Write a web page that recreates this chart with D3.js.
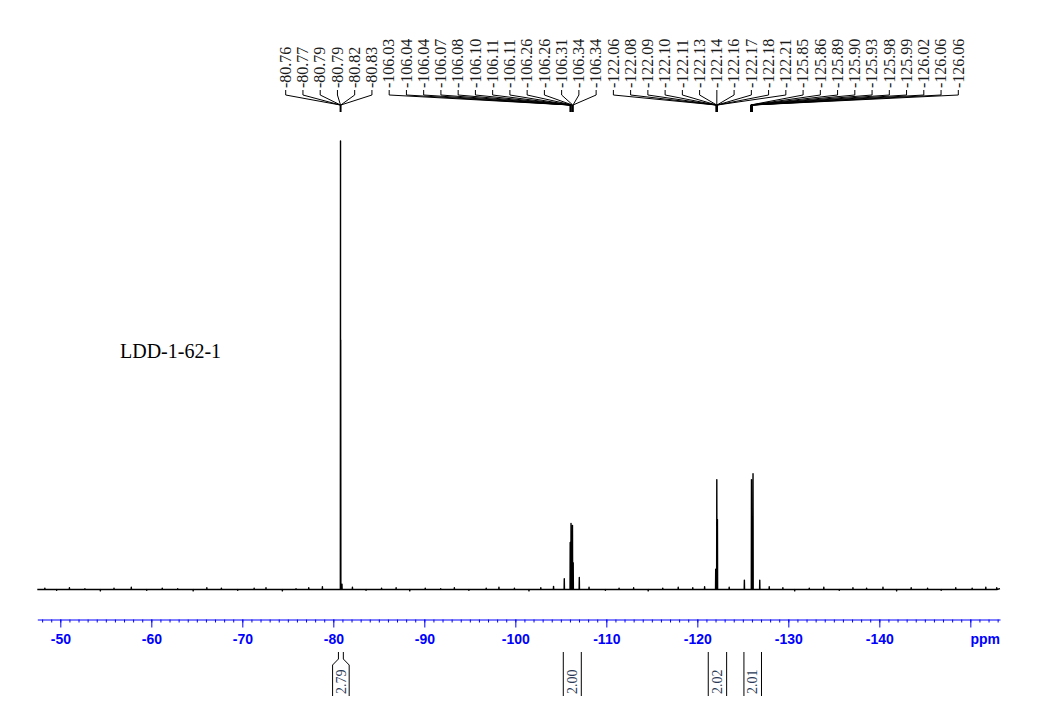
<!DOCTYPE html>
<html>
<head>
<meta charset="utf-8"/>
<script src="https://cdn.jsdelivr.net/npm/d3@7"></script>
<style>
body { margin: 0; background: #fff; }
.axis path, .axis line { stroke: #0000ff; stroke-width: 1; }
.axis text { fill: #0000ff; font: bold 14px "Liberation Sans", Arial, sans-serif; }
.peaklab { font: 16px "Liberation Serif", "Times New Roman", serif; fill: #1a1a1a; }
.connector { fill: none; stroke: #000; stroke-width: 1; }
.trace { fill: none; stroke: #000; stroke-width: 1.4; stroke-linejoin: round; }
.integral { fill: none; stroke: #000; stroke-width: 1; }
.intlab { font: 14px "Liberation Serif", "Times New Roman", serif; fill: #2a3a55; }
.sample { font: 20px "Liberation Serif", "Times New Roman", serif; fill: #000; }
</style>
</head>
<body>
<svg id="spec" width="1062" height="714"></svg>
<script>

var sampleName = "LDD-1-62-1";

// picked peaks (ppm) shown at the top
var labelPpm = [-80.76, -80.77, -80.79, -80.79, -80.82, -80.83,
  -106.03, -106.04, -106.04, -106.07, -106.08, -106.10, -106.11, -106.11, -106.26, -106.26, -106.31, -106.34, -106.34,
  -122.06, -122.08, -122.09, -122.10, -122.11, -122.13, -122.14, -122.16, -122.17, -122.18, -122.21,
  -125.85, -125.86, -125.89, -125.90, -125.93, -125.98, -125.99, -126.02, -126.06, -126.06];

// spectrum lines (relative intensity, tallest = 100)
var peakPpm    = [-80.79, -80.81, -80.95, -105.38, -106.03, -106.12, -106.28, -106.36, -107.03, -122.02, -122.14, -122.21, -125.17, -125.95, -126.12, -126.86];
var peakHeight = [100,    55.7,   1.2,    2.4,     10.5,    14.7,    14.3,    6.0,     2.7,     4.5,     24.5,    15.6,    2.1,     24.5,    25.8,    2.1];

// small baseline noise spikes
var noisePpm = [-48.3, -49.6, -51.0, -52.7, -54.4, -55.9, -57.8, -59.5, -61.2, -62.9, -64.6, -66.1, -67.7, -69.5, -71.3, -72.6,
  -74.4, -75.9, -77.3, -78.8, -82.1, -83.6, -85.3, -86.9, -88.4, -90.1, -91.8, -93.3, -94.9, -96.8, -98.2, -99.9,
  -101.5, -102.8, -104.2, -108.1, -109.9, -111.4, -113.0, -114.6, -116.2, -117.9, -119.5, -120.8, -123.5, -127.9,
  -129.4, -130.7, -132.3, -133.9, -135.6, -137.1, -138.6, -140.4, -141.9, -143.5, -145.3, -146.8, -148.4, -150.2, -151.7, -152.9];
var noiseVal = [0.3, -0.2, 0.4, 0.2, -0.3, 0.3, 0.5, -0.2, 0.3, 0.2, -0.3, 0.4, 0.3, -0.2, 0.3, 0.4,
  -0.3, 0.2, 0.4, 0.6, 0.5, -0.2, 0.3, 0.4, -0.3, 0.3, 0.2, 0.4, -0.2, 0.3, 0.5, 0.3,
  -0.3, 0.4, 0.7, 0.5, -0.2, 0.3, 0.4, -0.3, 0.3, 0.5, 0.4, 0.6, 0.5, 0.6,
  0.4, -0.3, 0.3, 0.5, -0.2, 0.4, 0.3, 0.5, -0.3, 0.4, 0.3, -0.2, 0.4, 0.3, 0.5, 0.4];

// integrals
var integralFrom  = [-80.56, -105.27, -121.20, -125.12];
var integralTo    = [-81.10, -107.25, -123.22, -127.05];
var integralValue = ["2.79", "2.00", "2.02", "2.01"];

var majorTicks = [-50, -60, -70, -80, -90, -100, -110, -120, -130, -140, -150];
var majorLabels = ["-50", "-60", "-70", "-80", "-90", "-100", "-110", "-120", "-130", "-140", ""];

var svg = d3.select("#spec");

var x = d3.scaleLinear().domain([-47.47, -153.26]).range([37.3, 1000]);
var y = d3.scaleLinear().domain([0, 100]).range([589.5, 141]);

// ----- trace -----
var pts = [[-47.47, 0], [-153.26, 0.2]];
function addLine(p, h) {
  pts.push([p + 0.02, 0]);
  pts.push([p, h]);
  pts.push([p - 0.02, 0]);
}
noisePpm.forEach(function(p, i) { addLine(p, noiseVal[i]); });
peakPpm.forEach(function(p, i) { addLine(p, peakHeight[i]); });
pts.sort(function(a, b) { return b[0] - a[0]; });

svg.append("path")
    .datum(pts)
    .attr("class", "trace")
    .attr("d", d3.line().x(function(d) { return x(d[0]); }).y(function(d) { return y(d[1]); }));

// ----- axis -----
var axisY = 619.5;
svg.append("g")
    .attr("class", "axis")
    .attr("transform", "translate(0," + axisY + ")")
    .call(d3.axisBottom(x).tickValues(d3.range(-48, -154, -1)).tickSize(3).tickSizeOuter(0).tickFormat(""));

svg.append("g")
    .attr("class", "axis")
    .attr("transform", "translate(0," + axisY + ")")
    .call(d3.axisBottom(x).tickValues(majorTicks).tickSize(8).tickSizeOuter(0).tickPadding(7)
      .tickFormat(function(d, i) { return majorLabels[i]; }))
  .call(function(g) { g.select(".domain").remove(); })
  .append("text")
    .attr("x", x.range()[1])
    .attr("y", 15)
    .attr("dy", "0.71em")
    .attr("text-anchor", "end")
    .text("ppm");

// ----- peak labels -----
var lx = d3.scalePoint().domain(d3.range(labelPpm.length)).range([285.7, 958.3]);

var labs = svg.append("g").selectAll("g")
    .data(labelPpm)
    .enter().append("g");

labs.append("text")
    .attr("class", "peaklab")
    .attr("transform", function(d, i) { return "translate(" + lx(i) + ",88) rotate(-90)"; })
    .attr("dy", "0.33em")
    .text(function(d) { return d.toFixed(2); });

labs.append("path")
    .attr("class", "connector")
    .attr("d", function(d, i) {
      return "M" + lx(i) + ",90V95L" + x(d) + ",105V112";
    });

// ----- integrals -----
var ig = svg.append("g").selectAll("g")
    .data(integralValue)
    .enter().append("g");

ig.append("path")
    .attr("class", "integral")
    .attr("d", function(d, i) {
      var x1 = x(integralFrom[i]), x2 = x(integralTo[i]);
      var cx = (x1 + x2) / 2;
      if (x2 - x1 < 16) {
        return "M" + x1 + ",652V659L" + (cx - 8.3) + ",665V696" +
               "M" + x2 + ",652V659L" + (cx + 8.3) + ",665V696";
      }
      return "M" + x1 + ",652V696M" + x2 + ",652V696";
    });

ig.append("text")
    .attr("class", "intlab")
    .attr("transform", function(d, i) {
      return "translate(" + (x(integralFrom[i]) + x(integralTo[i])) / 2 + ",694) rotate(-90)";
    })
    .attr("dy", "0.33em")
    .text(function(d) { return d; });

// ----- sample name -----
svg.append("text")
    .attr("class", "sample")
    .attr("x", 120)
    .attr("y", 358)
    .text(sampleName);

</script>
</body>
</html>
